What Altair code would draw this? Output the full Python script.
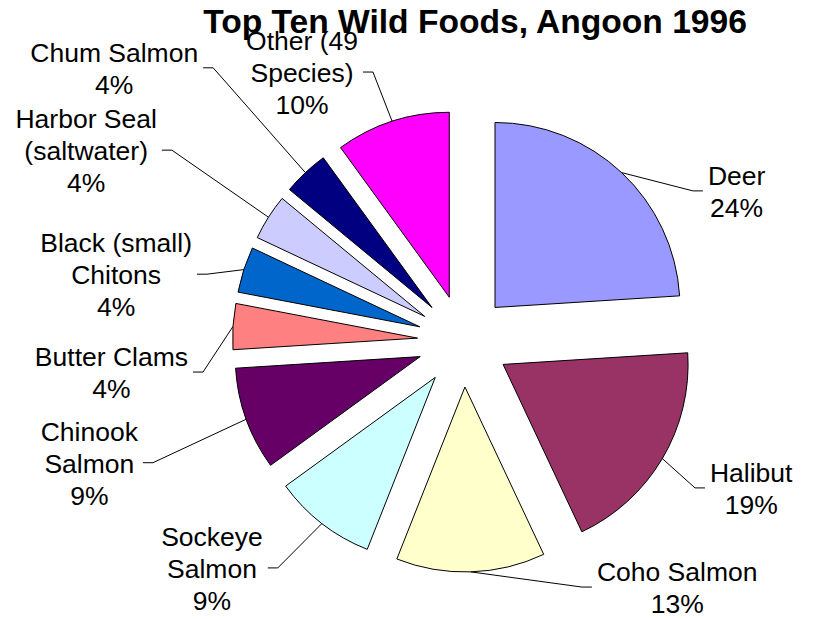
import math
import altair as alt
import pandas as pd

# ---- data ----
foods = ["Deer", "Halibut", "Coho Salmon", "Sockeye Salmon", "Chinook Salmon",
         "Butter Clams", "Black (small) Chitons", "Harbor Seal (saltwater)",
         "Chum Salmon", "Other (49 Species)"]
shares = [24, 19, 13, 9, 9, 4, 4, 4, 4, 10]
label_names = ["Deer", "Halibut", "Coho Salmon", "Sockeye\nSalmon", "Chinook\nSalmon",
               "Butter Clams", "Black (small)\nChitons", "Harbor Seal\n(saltwater)",
               "Chum Salmon", "Other (49\nSpecies)"]
colors = ["#9999FF", "#993366", "#FFFFCC", "#CCFFFF", "#660066",
          "#FF8080", "#0066CC", "#CCCCFF", "#000080", "#FF00FF"]
title = "Top Ten Wild Foods, Angoon 1996"

# ---- layout (style): leader-line knee of each label, polar, in pie radii ----
knee_angle_deg = [56.8, 122.4, 154.3, 219.3, 248.6, 263.2, 284.6, 303.2, 317.5, 341.4]
knee_radius = [1.482, 1.482, 1.476, 1.585, 1.803, 1.418, 1.433, 1.884, 2.003, 1.534]

R_PX = 185.0           # pie radius in pixels
EXPLODE = 46.0 / R_PX  # explode distance in radii
SEG = 10.0 / R_PX      # horizontal end of leader
GAP = 5.0 / R_PX
FS = 26.5
LH = 32

W, H = 798, 611
CX, CY = 455.5, 333.0  # pie centre inside plot area (px)
xdom = [-CX / R_PX, (W - CX) / R_PX]
ydom = [-(H - CY) / R_PX, CY / R_PX]

# Arial / Liberation Sans advance widths (per 1000 em)
AW = {' ': 278, '(': 333, ')': 333, '%': 889, 'A': 667, 'B': 667, 'C': 722, 'D': 722,
      'H': 722, 'O': 778, 'S': 667, 'a': 556, 'b': 556, 'c': 500, 'd': 556, 'e': 556,
      'h': 556, 'i': 222, 'k': 500, 'l': 222, 'm': 833, 'n': 556, 'o': 556, 'p': 556,
      'r': 333, 's': 500, 't': 278, 'u': 556, 'w': 722, 'y': 500}


def text_w(s):
    return sum(AW.get(ch, 556) for ch in s) / 1000.0 * FS


total = float(sum(shares))
slice_rows, line_rows, text_rows = [], [], []
cum = 0.0
for i, (f, s) in enumerate(zip(foods, shares)):
    start, end = cum, cum + s
    cum = end
    mid = 2 * math.pi * (start + end) / 2 / total
    slice_rows.append(dict(food=f, idx=i, start=start, end=end,
                           ex=EXPLODE * math.sin(mid), ey=EXPLODE * math.cos(mid)))
    ka = math.radians(knee_angle_deg[i])
    kx, ky = knee_radius[i] * math.sin(ka), knee_radius[i] * math.cos(ka)
    side = -1 if kx < 0 else 1
    ax, ay = (1 + EXPLODE) * math.sin(mid), (1 + EXPLODE) * math.cos(mid)
    hx = kx + side * SEG
    for p, (px, py) in enumerate([(ax, ay), (kx, ky), (hx, ky)]):
        line_rows.append(dict(food=f, pt=p, x=px, y=py))
    label = label_names[i] + "\n" + f"{s}%"
    lines_ = label.split("\n")
    half = max(text_w(l) for l in lines_) / 2 / R_PX
    # first line placed so that the whole block is centred on the knee
    ly = ky + (len(lines_) - 1) / 2 * LH / R_PX
    text_rows.append(dict(food=f, label=label, x=hx + side * (GAP + half), y=ly))

slices = pd.DataFrame(slice_rows)
leaders = pd.DataFrame(line_rows)
labels = pd.DataFrame(text_rows)

xs = alt.Scale(domain=xdom, nice=False, zero=False)
ys = alt.Scale(domain=ydom, nice=False, zero=False)

pie = alt.Chart(slices).mark_arc(stroke="black", strokeWidth=1, radius=R_PX).encode(
    x=alt.X("ex:Q", scale=xs, axis=None),
    y=alt.Y("ey:Q", scale=ys, axis=None),
    theta=alt.Theta("start:Q", scale=alt.Scale(domain=[0, total], range=[0, 2 * math.pi]),
                    stack=None),
    theta2="end:Q",
    color=alt.Color("food:N", scale=alt.Scale(domain=foods, range=colors), legend=None),
)

lines = alt.Chart(leaders).mark_line(color="black", strokeWidth=1).encode(
    x=alt.X("x:Q", scale=xs, axis=None),
    y=alt.Y("y:Q", scale=ys, axis=None),
    detail="food:N",
    order="pt:Q",
)

texts = alt.Chart(labels).mark_text(
    font="Liberation Sans", fontSize=FS, lineHeight=LH, lineBreak="\n",
    align="center", baseline="middle", color="black", dy=2,
).encode(
    x=alt.X("x:Q", scale=xs, axis=None),
    y=alt.Y("y:Q", scale=ys, axis=None),
    text="label:N",
)

title_mark = alt.Chart(pd.DataFrame({"t": [title]})).mark_text(
    font="Liberation Sans", fontSize=33.6, fontWeight="bold", color="black",
    align="center", baseline="alphabetic",
).encode(x=alt.value(467), y=alt.value(24.5), text="t:N")

chart = alt.layer(pie, lines, texts, title_mark).properties(
    width=W, height=H,
    autosize=alt.AutoSizeParams(type="none"),
    padding={"left": 0, "top": 0, "right": 0, "bottom": 0},
).configure(background="white", view=alt.ViewConfig(stroke=None))

chart.save("out.html", embed_options={"renderer": "svg", "actions": False})
